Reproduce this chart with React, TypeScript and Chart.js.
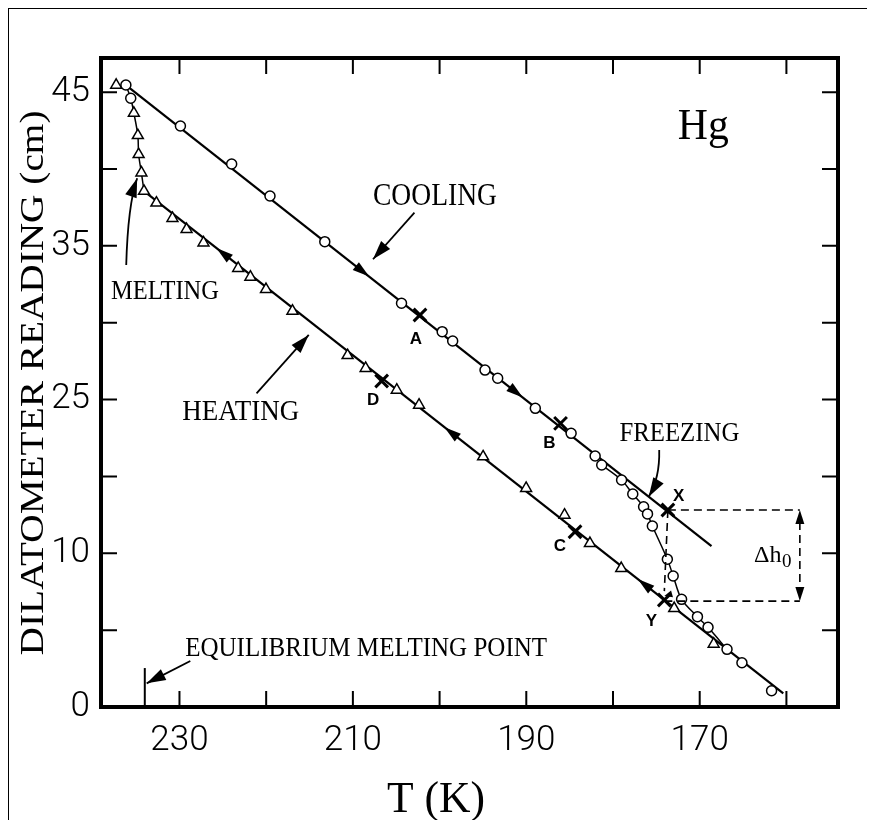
import React, { useEffect, useRef } from 'react';
import { Chart, registerables } from 'chart.js';

Chart.register(...registerables);

// ---- data (T in K, dilatometer reading on the plotted linear scale) ----
const COOLING_T = [236.18, 235.62, 229.89, 223.98, 219.56, 213.24, 204.39, 199.7, 198.49, 194.76, 193.3, 188.96, 184.83, 182.06, 181.3, 179.01, 177.72, 176.47, 176.02, 175.46, 173.73, 173.06, 172.09, 170.26, 169.04, 166.85, 165.13, 161.71];
const COOLING_H = [45.52, 44.55, 42.52, 39.74, 37.4, 34.06, 29.55, 27.47, 26.79, 24.66, 24.06, 21.86, 20.03, 18.37, 17.71, 16.61, 15.59, 14.66, 14.13, 13.25, 10.81, 9.59, 7.88, 6.61, 5.83, 4.22, 3.24, 1.19];

const HEATING_T = [237.3, 235.26, 234.8, 234.71, 234.39, 234.09, 232.66, 230.81, 229.18, 227.23, 223.23, 221.82, 220.02, 216.97, 210.61, 208.53, 204.94, 202.37, 194.98, 190.02, 185.59, 182.66, 179.05, 172.94, 168.39];
const HEATING_H = [45.52, 43.47, 41.83, 40.44, 39.1, 37.75, 36.89, 35.77, 34.96, 33.98, 32.11, 31.47, 30.57, 28.98, 25.73, 24.79, 23.2, 22.1, 18.32, 16.01, 14.05, 11.98, 10.15, 7.22, 4.61];

const COOLING_FIT_T = [236.18, 168.64];
const COOLING_FIT_H = [45.52, 11.78];
const HEATING_FIT_T = [234.09, 160.36];
const HEATING_FIT_H = [37.75, 1.0];

const MELTING_CURVE_T = [236.18, 235.62, 235.26, 234.8, 234.71, 234.39, 234.09];
const MELTING_CURVE_H = [45.52, 44.55, 43.47, 41.83, 40.44, 39.1, 37.75];

const FREEZING_CURVE_T = [181.3, 179.01, 177.72, 176.47, 176.02, 175.46, 173.73, 173.06, 172.09, 170.26, 169.04, 166.85];
const FREEZING_CURVE_H = [17.71, 16.61, 15.59, 14.66, 14.13, 13.25, 10.81, 9.59, 7.88, 6.61, 5.83, 4.22];

const MARK_LABELS = ['A', 'B', 'C', 'D', 'X', 'Y'];
const MARK_T = [202.26, 186.05, 184.38, 206.68, 173.67, 174.08];
const MARK_H = [28.69, 20.76, 12.83, 23.86, 14.42, 7.83];
const MARK_LABEL_T = [202.74, 187.35, 186.12, 207.67, 172.42, 175.57];
const MARK_LABEL_H = [26.99, 19.42, 11.86, 22.52, 15.52, 6.37];

const COOLING_ARROWS_T = [208.12, 190.4];
const HEATING_ARROWS_T = [225.74, 199.44, 177.14];

const X_TICKS = [230, 220, 210, 200, 190, 180, 170, 160];
const X_TICK_LABELS = ['230', '', '210', '', '190', '', '170', ''];
const Y_TICKS = [0, 5.625, 11.25, 16.875, 22.5, 28.125, 33.75, 39.375, 45];
const Y_TICK_LABELS = ['0', '', '10', '', '25', '', '35', '', '45'];

const EQ_MELT_T = 234.0;
const DELTA_TOP_H = 14.42;
const DELTA_BOT_H = 7.75;
const DELTA_RIGHT_T = 158.45;

// ---- annotation layout (data coordinates) ----
const SERIF = '"Liberation Serif", "DejaVu Serif", serif';
const SANS_BOLD = '"Liberation Sans", Arial, sans-serif';
const TEXT_NOTES = [
  { text: 'COOLING', t: 200.53, h: 37.47, size: 31, width: 124 },
  { text: 'HEATING', t: 222.94, h: 21.74, size: 30, width: 117 },
  { text: 'MELTING', t: 231.67, h: 30.52, size: 28, width: 108 },
  { text: 'FREEZING', t: 172.34, h: 20.15, size: 28, width: 120 },
  { text: 'EQUILIBRIUM MELTING POINT', t: 208.47, h: 4.41, size: 27, width: 362 },
  { text: 'Hg', t: 169.59, h: 42.64, size: 44, width: 51 },
];
const POINTERS = [
  { from: [202.9, 36.18], to: [207.68, 32.77] },
  { from: [221.11, 22.96], to: [215.09, 27.23] },
  { from: [236.14, 32.35], ctrl: [235.95, 36.74], to: [234.88, 38.7] },
  { from: [174.67, 18.81], ctrl: [174.59, 16.76], to: [175.88, 15.39] },
  { from: [228.75, 3.37], to: [233.78, 1.73] },
];

const pts = (xs: number[], ys: number[]) => xs.map((x, i) => ({ x, y: ys[i] }));

function head(ctx: CanvasRenderingContext2D, tx: number, ty: number, dx: number, dy: number, L: number, W: number) {
  const n = Math.hypot(dx, dy) || 1;
  const ux = dx / n, uy = dy / n;
  ctx.beginPath();
  ctx.moveTo(tx, ty);
  ctx.lineTo(tx - ux * L - uy * W, ty - uy * L + ux * W);
  ctx.lineTo(tx - ux * L + uy * W, ty - uy * L - ux * W);
  ctx.closePath();
  ctx.fill();
}

function stretchText(ctx: CanvasRenderingContext2D, text: string, x: number, y: number, font: string, width?: number, align: CanvasTextAlign = 'center', rot = 0) {
  ctx.save();
  ctx.font = font;
  const w = ctx.measureText(text).width;
  const sx = width ? width / w : 1;
  ctx.translate(x, y);
  if (rot) ctx.rotate(rot);
  ctx.scale(sx, 1);
  ctx.textAlign = align;
  ctx.textBaseline = 'alphabetic';
  ctx.fillText(text, 0, 0);
  ctx.restore();
  return w * sx;
}

function interp(ts: number[], hs: number[], t: number) {
  return hs[0] + ((t - ts[0]) * (hs[1] - hs[0])) / (ts[1] - ts[0]);
}

const drawingPlugin = {
  id: 'hgDrawing',
  afterDatasetsDraw(chart: any) {
    const { ctx, scales } = chart;
    const xs = scales.x, ys = scales.y;
    const P = (t: number, h: number) => [xs.getPixelForValue(t), ys.getPixelForValue(h)];
    ctx.save();
    ctx.fillStyle = '#000';
    ctx.strokeStyle = '#000';

    // direction arrows on the fitted lines
    const lineArrow = (fitT: number[], fitH: number[], t: number, towardHigh: boolean) => {
      const dt = towardHigh ? 1 : -1;
      const [x1, y1] = P(t, interp(fitT, fitH, t));
      const [x0, y0] = P(t - dt, interp(fitT, fitH, t - dt));
      head(ctx, x1, y1, x1 - x0, y1 - y0, 17, 5);
    };
    COOLING_ARROWS_T.forEach((t) => lineArrow(COOLING_FIT_T, COOLING_FIT_H, t, false));
    HEATING_ARROWS_T.forEach((t) => lineArrow(HEATING_FIT_T, HEATING_FIT_H, t, true));

    // pointer arrows of the annotations
    ctx.lineWidth = 1.8;
    POINTERS.forEach((p: any) => {
      const [fx, fy] = P(p.from[0], p.from[1]);
      const [tx, ty] = P(p.to[0], p.to[1]);
      ctx.beginPath();
      ctx.moveTo(fx, fy);
      let dx = tx - fx, dy = ty - fy;
      if (p.ctrl) {
        const [cx, cy] = P(p.ctrl[0], p.ctrl[1]);
        ctx.quadraticCurveTo(cx, cy, tx, ty);
        dx = tx - cx; dy = ty - cy;
      } else {
        ctx.lineTo(tx, ty);
      }
      ctx.stroke();
      head(ctx, tx, ty, dx, dy, 19, 6);
    });

    // equilibrium melting point marker
    {
      const [mx, my0] = P(EQ_MELT_T, 0);
      const [, my1] = P(EQ_MELT_T, 2.85);
      ctx.lineWidth = 2;
      ctx.beginPath();
      ctx.moveTo(mx, my0);
      ctx.lineTo(mx, my1);
      ctx.stroke();
    }

    // dashed construction lines for delta h0
    {
      const [xX, yX] = P(MARK_T[4], DELTA_TOP_H);
      const [xY] = P(MARK_T[5], DELTA_BOT_H);
      const [xR, yTop] = P(DELTA_RIGHT_T, DELTA_TOP_H);
      const [, yBot] = P(DELTA_RIGHT_T, DELTA_BOT_H);
      ctx.lineWidth = 1.6;
      ctx.setLineDash([8, 5]);
      ctx.beginPath();
      ctx.moveTo(xX, yX); ctx.lineTo(xR, yTop);
      ctx.moveTo(xY, yBot); ctx.lineTo(xR, yBot);
      ctx.moveTo(xX, yX); ctx.lineTo(xY, yBot - 10);
      ctx.moveTo(xR, yTop + 12); ctx.lineTo(xR, yBot - 12);
      ctx.stroke();
      ctx.setLineDash([]);
      head(ctx, xR, yTop, 0, -1, 14, 4.5);
      head(ctx, xR, yBot, 0, 1, 14, 4.5);
      head(ctx, xY, yBot - 5, xY - xX, 1, 8, 3.5);
      // delta h0 label
      const [lx, ly] = P(163.73, 10.63);
      const w = stretchText(ctx, '\u0394h', lx, ly, `24px ${SERIF}`, undefined, 'left');
      stretchText(ctx, '0', lx + w + 0.5, ly + 5, `19px ${SERIF}`, undefined, 'left');
    }

    // text annotations
    TEXT_NOTES.forEach((n) => {
      const [px, py] = P(n.t, n.h);
      stretchText(ctx, n.text, px, py + 0.331 * n.size, `${n.size}px ${SERIF}`, n.width, 'center');
    });

    // letters next to the X marks
    MARK_LABELS.forEach((l, i) => {
      const [px, py] = P(MARK_LABEL_T[i], MARK_LABEL_H[i]);
      stretchText(ctx, l, px, py + 0.36 * 17, `bold 17px ${SANS_BOLD}`, undefined, 'center');
    });
    ctx.restore();
  },
  afterDraw(chart: any) {
    const { ctx, chartArea: a, scales } = chart;
    ctx.save();
    ctx.strokeStyle = '#000';
    ctx.fillStyle = '#000';
    ctx.lineWidth = 2;
    const TL = 16;
    ctx.beginPath();
    X_TICKS.forEach((v) => {
      const px = scales.x.getPixelForValue(v);
      ctx.moveTo(px, a.bottom); ctx.lineTo(px, a.bottom - TL);
      ctx.moveTo(px, a.top); ctx.lineTo(px, a.top + TL);
    });
    Y_TICKS.forEach((v) => {
      const py = scales.y.getPixelForValue(v);
      ctx.moveTo(a.left, py); ctx.lineTo(a.left + TL, py);
      ctx.moveTo(a.right, py); ctx.lineTo(a.right - TL, py);
    });
    ctx.stroke();
    ctx.lineWidth = 4;
    ctx.strokeRect(a.left, a.top, a.right - a.left, a.bottom - a.top);

    // axis titles
    stretchText(ctx, 'T (K)', 428, 804, `45px ${SERIF}`, 98, 'center');
    stretchText(ctx, 'DILATOMETER READING (cm)', 35, 375, `33px ${SERIF}`, 545, 'center', -Math.PI / 2);
    ctx.restore();
  },
};

export default function App() {
  const ref = useRef<HTMLCanvasElement | null>(null);
  useEffect(() => {
    if (!ref.current) return;
    const tickFont = { family: 'Roboto, "DejaVu Sans", sans-serif', size: 35, weight: 300 as any, lineHeight: 1 };
    const chart = new Chart(ref.current, {
      type: 'scatter',
      data: {
        datasets: [
          { label: 'Cooling', data: pts(COOLING_T, COOLING_H), pointStyle: 'circle', pointRadius: 5, pointBorderWidth: 1.5, pointBackgroundColor: '#fff', pointBorderColor: '#000', showLine: false, order: 0 } as any,
          { label: 'Heating', data: pts(HEATING_T, HEATING_H), pointStyle: 'triangle', pointRadius: 6.3, pointBorderWidth: 1.5, pointBackgroundColor: '#fff', pointBorderColor: '#000', showLine: false, order: 0 },
          { label: 'Marks', data: pts(MARK_T, MARK_H), pointStyle: 'crossRot', pointRadius: 9, pointBorderWidth: 3, pointBorderColor: '#000', pointBackgroundColor: '#000', showLine: false, order: 0 },
          { label: 'Cooling fit', data: pts(COOLING_FIT_T, COOLING_FIT_H), showLine: true, borderColor: '#000', borderWidth: 2.2, pointRadius: 0, order: 1 },
          { label: 'Heating fit', data: pts(HEATING_FIT_T, HEATING_FIT_H), showLine: true, borderColor: '#000', borderWidth: 2.2, pointRadius: 0, order: 1 },
          { label: 'Melting', data: pts(MELTING_CURVE_T, MELTING_CURVE_H), showLine: true, borderColor: '#000', borderWidth: 1.5, pointRadius: 0, tension: 0.3, order: 1 },
          { label: 'Freezing', data: pts(FREEZING_CURVE_T, FREEZING_CURVE_H), showLine: true, borderColor: '#000', borderWidth: 1.5, pointRadius: 0, tension: 0.3, order: 1 },
        ],
      },
      options: {
        animation: false,
        responsive: false,
        devicePixelRatio: 1,
        events: [],
        layout: { padding: { top: 50, right: 31, left: 0, bottom: 0 } },
        plugins: { legend: { display: false }, tooltip: { enabled: false } },
        scales: {
          x: {
            type: 'linear',
            reverse: true,
            min: 154.05,
            max: 239.05,
            afterFit: (s: any) => { s.height = 113; },
            afterBuildTicks: (s: any) => { s.ticks = X_TICKS.map((v) => ({ value: v })); },
            grid: { display: false, drawTicks: false },
            border: { display: false },
            ticks: {
              autoSkip: false, maxRotation: 0, minRotation: 0, padding: 17, color: '#000', font: tickFont,
              callback: (v: any) => X_TICK_LABELS[X_TICKS.indexOf(Number(v))] ?? '',
            },
          },
          y: {
            type: 'linear',
            min: 0,
            max: 47.5,
            afterFit: (s: any) => { s.width = 93; },
            afterBuildTicks: (s: any) => { s.ticks = Y_TICKS.map((v) => ({ value: v })); },
            grid: { display: false, drawTicks: false },
            border: { display: false },
            ticks: {
              autoSkip: false, padding: 11, color: '#000', font: tickFont,
              callback: (v: any) => Y_TICK_LABELS[Y_TICKS.indexOf(Number(v))] ?? '',
            },
          },
        },
      },
      plugins: [drawingPlugin],
    });
    return () => chart.destroy();
  }, []);

  return (
    <div style={{ position: 'relative', width: 861, height: 812 }}>
      <canvas ref={ref} width={861} height={812} style={{ position: 'absolute', left: 0, top: 0, width: 861, height: 812 }} />
      <div style={{ position: 'absolute', left: 0, top: 0, width: 861, height: 812, boxSizing: 'border-box', border: '1px solid #000', borderBottom: 'none', pointerEvents: 'none' }} />
    </div>
  );
}
